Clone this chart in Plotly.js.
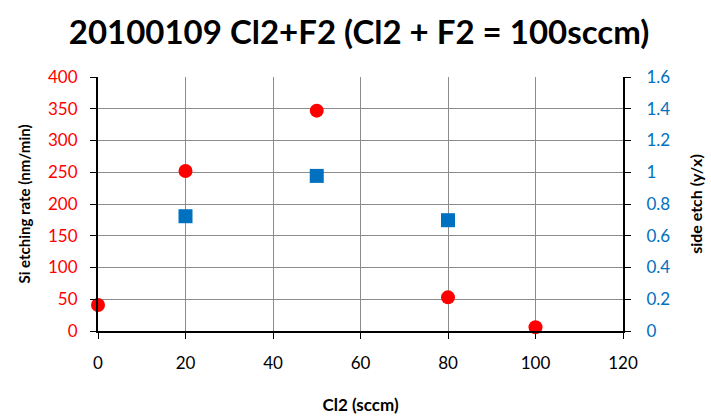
<!DOCTYPE html>
<html>
<head>
<meta charset="utf-8">
<script src="https://cdn.plot.ly/plotly-3.0.1.min.js"></script>
<style>html,body{margin:0;padding:0;background:#fff;}#chart{width:711px;height:416px;}</style>
</head>
<body>
<div id="chart"></div>
<script>
const cl2Rate = [0, 20, 50, 80, 100];
const etchRate = [41, 252, 347, 53, 6];
const cl2Side = [20, 50, 80];
const sideEtch = [0.723, 0.977, 0.698];
const xTicks = [0, 20, 40, 60, 80, 100, 120];
const yTicks = [0, 50, 100, 150, 200, 250, 300, 350, 400];
const y2Ticks = [0, 0.2, 0.4, 0.6, 0.8, 1, 1.2, 1.4, 1.6];
const y2Labels = ['0', '0.2', '0.4', '0.6', '0.8', '1', '1.2', '1.4', '1.6'];

const font = 'Lato, "Open Sans", sans-serif';
const traces = [
  {x: cl2Rate, y: etchRate, type: 'scatter', mode: 'markers', name: 'Si etching rate',
   marker: {symbol: 'circle', size: 14, color: '#FF0000'}, yaxis: 'y', cliponaxis: false},
  {x: cl2Side, y: sideEtch, type: 'scatter', mode: 'markers', name: 'side etch',
   marker: {symbol: 'square', size: 14, color: '#0070C0'}, yaxis: 'y2', cliponaxis: false}
];
const layout = {
  width: 711, height: 416,
  margin: {l: 98, r: 88, t: 77, b: 85},
  paper_bgcolor: '#fff', plot_bgcolor: '#fff',
  showlegend: false,
  font: {family: font, color: '#000'},
  title: {text: '<b>20100109 Cl2+F2 (Cl2 + F2 = 100sccm)</b>', x: 0.505, xanchor: 'center', y: 0.922, yanchor: 'middle',
          font: {family: font, size: 33, color: '#000'}},
  xaxis: {range: [0, 120], tickvals: xTicks, ticktext: xTicks.map(String),
          showgrid: true, gridcolor: '#8c8c8c', gridwidth: 1,
          showline: true, linecolor: '#000', linewidth: 2, zeroline: false,
          ticks: 'outside', ticklen: 6, tickcolor: '#000', tickwidth: 1,
          ticklabelstandoff: 10,
          tickfont: {family: font, size: 17, color: '#000'},
          title: {text: '<b>Cl2 (sccm)</b>', font: {family: font, size: 17, color: '#000'}, standoff: 27}},
  yaxis: {range: [0, 400], tickvals: yTicks, ticktext: yTicks.map(String),
          showgrid: true, gridcolor: '#8c8c8c', gridwidth: 1,
          showline: true, linecolor: '#000', linewidth: 2, zeroline: false,
          ticks: 'outside', ticklen: 6, tickcolor: '#000', tickwidth: 1,
          ticklabelstandoff: 9,
          tickfont: {family: font, size: 17, color: '#FF0000'},
          title: {text: '<b>Si etching rate (nm/min)</b>', font: {family: font, size: 15, color: '#000'}, standoff: 14}},
  yaxis2: {range: [0, 1.6], tickvals: y2Ticks, ticktext: y2Labels, overlaying: 'y', side: 'right',
          showgrid: false, showline: true, linecolor: '#000', linewidth: 2, zeroline: false,
          ticks: 'outside', ticklen: 6, tickcolor: '#000', tickwidth: 1,
          ticklabelstandoff: 12,
          tickfont: {family: font, size: 17, color: '#0070C0'},
          title: {text: '<b>side etch (y/x)</b>', font: {family: font, size: 16, color: '#000'}, standoff: 22}}
};
Plotly.newPlot('chart', traces, layout, {displayModeBar: false, staticPlot: true});
</script>
</body>
</html>
